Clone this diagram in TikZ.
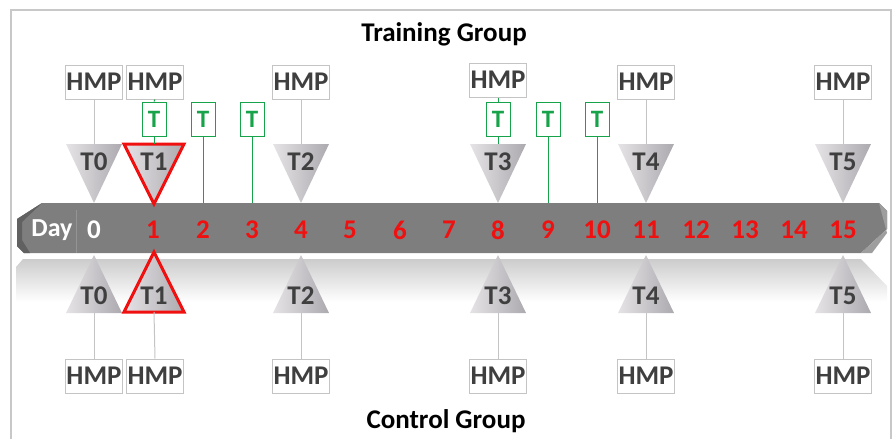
\documentclass[tikz,border=0pt]{standalone}
\usepackage{fontspec}
\setmainfont{Carlito}
\definecolor{frameline}{HTML}{C8C8C8}
\definecolor{hmpline}{HTML}{C4C4C4}
\definecolor{labeltext}{HTML}{3F3F3F}
\definecolor{tgreen}{HTML}{17A34A}
\definecolor{daygrey}{HTML}{7E7E7E}
\definecolor{trilight}{HTML}{E6E3E7}
\definecolor{trimid}{HTML}{D0CCD1}
\definecolor{tridark}{HTML}{ADAAAF}
\definecolor{alertred}{HTML}{F01010}
\begin{document}
\begin{tikzpicture}[x=1pt,y=-1pt,
  hmp/.style={draw=hmpline, fill=white, line width=1pt, minimum width=57pt,
    minimum height=34pt, inner sep=0pt, text=labeltext,
    font=\fontsize{27}{27}\selectfont\bfseries},
  tbox/.style={draw=tgreen, fill=white, line width=1pt, minimum width=24pt,
    minimum height=34pt, inner sep=0pt, text=tgreen,
    font=\fontsize{25}{25}\selectfont\bfseries},
  tlabel/.style={inner sep=0pt, text=labeltext, font=\fontsize{27}{27}\selectfont\bfseries},
  daynum/.style={inner sep=0pt, text=alertred, font=\fontsize{27}{27}\selectfont\bfseries},
  title/.style={inner sep=0pt, text=black, font=\fontsize{27}{27}\selectfont\bfseries},
  greyline/.style={draw=hmpline, line width=1pt},
  greenline/.style={draw=tgreen, line width=1pt},
  downtri/.pic={\shade[left color=trilight, middle color=trimid, right color=tridark]
    (-28,0) -- (28,0) -- (0,59) -- cycle;},
  uptri/.pic={\shade[left color=trilight, middle color=trimid, right color=tridark]
    (-28,0) -- (28,0) -- (0,-58) -- cycle;}
]
\useasboundingbox (0,0) rectangle (894,439);

% outer frame
\draw[frameline, line width=1.5pt] (11,439) -- (11,10) -- (891,10) -- (891,439);

% titles
\node[title] (train) at (444,34) {Training Group};
\node[title] (control) at (446,421) {Control Group};

% reflection of the time bar
\shade[top color=black!20, bottom color=white]
  (23,259) -- (861,259) -- (887,286) -- (887,302) -- (16,302) -- (16,267) -- cycle;

% time bar
\fill[daygrey] (42,203) -- (879,203) -- (887,211) -- (887,229) -- (861,253)
  -- (24,253) -- (17,246) -- (17,219) -- cycle;
\fill[black!38] (879,203) -- (887,211) -- (887,229) -- (861,253) -- (872,253) -- (887,233) -- cycle;
\fill[black!62] (42,203) -- (17,219) -- (17,246) -- (24,253) -- (30,253) -- (22,240) -- (22,222) -- cycle;
\draw[black!42, line width=0.8pt] (76,210) -- (76,253);

\node[inner sep=0pt, text=white, font=\fontsize{26}{26}\selectfont\bfseries] (daylbl) at (52,230) {Day};
\node[inner sep=0pt, text=white, font=\fontsize{27}{27}\selectfont\bfseries] (day0) at (94,230) {0};
\foreach \d/\x in {1/153,2/203,3/252,4/301,5/350,6/400,7/449,8/498,9/548,10/597,11/646,12/696,13/745,14/794,15/843}{
  \node[daynum] (day\d) at (\x,230) {\d};
  \coordinate (bar\d) at (\x,203);
}

% training group: time points
\foreach \t/\x/\hy/\n in {0/94/82/0,4/301/82/2,8/498/80/3,11/646/82/4,15/843/82/5}{
  \pic at (\x,144) {downtri};
  \coordinate (triT\t) at (\x,144);
  \node[tlabel] (labT\t) at (\x,162) {T\n};
  \node[hmp] (hmpT\t) at (\x,\hy) {HMP};
}
% day 1 is highlighted in red
\shade[left color=trilight, middle color=trimid, right color=tridark]
  (124,144) -- (184,144) -- (154,204) -- cycle;
\draw[alertred, line width=3pt, line join=miter] (124,144) -- (184,144) -- (154,204) -- cycle;
\coordinate (triT1) at (154,144);
\node[tlabel] (labT1) at (154,162) {T1};
\node[hmp] (hmpT1) at (155,82) {HMP};

% connectors from the HMP boxes to the time points
\foreach \t in {0,4,11,15}{
  \draw[greyline] (hmpT\t.south) -- (triT\t);
}

% training sessions
\foreach \d/\x in {1/154,2/203,3/252,8/498,9/548,10/597}{
  \node[tbox] (tb\d) at (\x,119) {T};
}
\draw[greenline] (hmpT1.south) -- (tb1.north);
\draw[greenline] (hmpT8.south) -- (tb8.north);
\draw[greenline] (tb1.south) -- (triT1);
\draw[greenline] (tb8.south) -- (triT8);
\foreach \d in {2,3,9,10}{
  \draw[greenline] (tb\d.south) -- (bar\d);
}

% control group: time points
\foreach \t/\x/\n in {0/94/0,4/301/2,8/498/3,11/646/4,15/843/5}{
  \pic at (\x,313) {uptri};
  \coordinate (triB\t) at (\x,313);
  \node[tlabel] (labB\t) at (\x,296) {T\n};
  \node[hmp] (hmpB\t) at (\x,376) {HMP};
  \draw[greyline] (triB\t) -- (hmpB\t.north);
}
\shade[left color=trilight, middle color=trimid, right color=tridark]
  (124,312) -- (184,312) -- (154,252) -- cycle;
\draw[alertred, line width=3pt, line join=miter] (124,312) -- (184,312) -- (154,252) -- cycle;
\coordinate (triB1) at (154,312);
\node[tlabel] (labB1) at (154,296) {T1};
\node[hmp] (hmpB1) at (155,376) {HMP};
\draw[greyline] (triB1) -- (hmpB1.north);
\end{tikzpicture}
\end{document}
